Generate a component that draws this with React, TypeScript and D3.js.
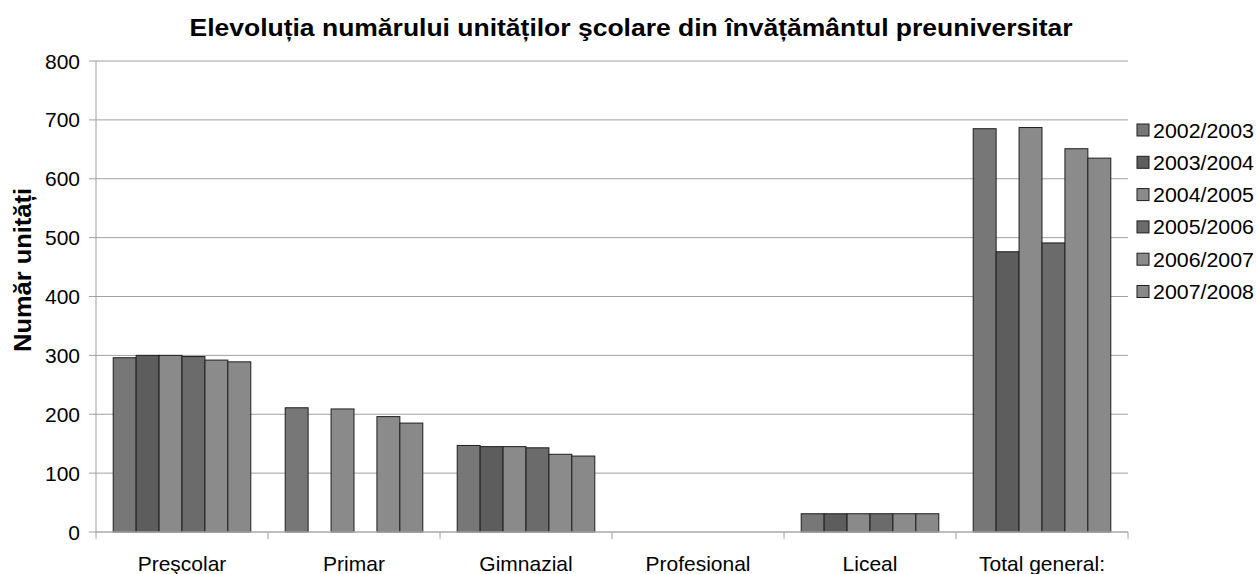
import React from "react";
import * as d3 from "d3";

const categories = ["Preşcolar", "Primar", "Gimnazial", "Profesional", "Liceal", "Total general:"];
const seriesNames = ["2002/2003", "2003/2004", "2004/2005", "2005/2006", "2006/2007", "2007/2008"];
// values[series][category]
const s2002 = [296, 211, 147, 0, 31, 685];
const s2003 = [300, null, 145, 0, 31, 476];
const s2004 = [300, 209, 145, 0, 31, 687];
const s2005 = [298, null, 143, 0, 31, 491];
const s2006 = [292, 196, 132, 0, 31, 651];
const s2007 = [289, 185, 129, 0, 31, 635];
const seriesValues: (number | null)[][] = [s2002, s2003, s2004, s2005, s2006, s2007];
const yTicks = [0, 100, 200, 300, 400, 500, 600, 700, 800];
const colors = ["#777777", "#5d5d5d", "#8a8a8a", "#6b6b6b", "#8b8b8b", "#898989"];

const W = 1256, H = 574;
const left = 96, right = 1128, top = 61, bottom = 532;

export default function App() {
  const x0 = d3.scaleBand<string>().domain(categories).range([left, right]).padding(0);
  const bw = x0.bandwidth() / 7.5;
  const y = d3.scaleLinear().domain([0, 800]).range([bottom, top]);
  const font = "Arial, 'Liberation Sans', sans-serif";
  return (
    <svg width={W} height={H} style={{ position: "absolute", left: 0, top: 0, background: "#fff" }} fontFamily={font}>
      <text x={631} y={36} textAnchor="middle" fontWeight="bold" fontSize={23} textLength={883} lengthAdjust="spacingAndGlyphs">Elevoluția numărului unităților şcolare din învățământul preuniversitar</text>
      {yTicks.map((t) => (
        <g key={t}>
          {t > 0 && <line x1={left} x2={right} y1={y(t)} y2={y(t)} stroke="#a0a0a0" strokeWidth={1} />}
          <line x1={left - 7} x2={left} y1={y(t)} y2={y(t)} stroke="#a0a0a0" />
          <text x={80} y={y(t) + 7.5} textAnchor="end" fontSize={21}>{t}</text>
        </g>
      ))}
      <line x1={left} x2={left} y1={top} y2={bottom} stroke="#a0a0a0" />
      <text transform={`translate(31,270) rotate(-90)`} textAnchor="middle" fontWeight="bold" fontSize={24} textLength={164} lengthAdjust="spacingAndGlyphs">Număr unități</text>
      {seriesValues.map((vals, si) =>
        vals.map((v, ci) =>
          v == null || v === 0 ? null : (
            <rect key={`${si}-${ci}`} x={(x0(categories[ci]) as number) + bw * 0.75 + si * bw} y={y(v)} width={bw} height={y(0) - y(v)} fill={colors[si]} stroke="#1e1e1e" strokeWidth={1} />
          )
        )
      )}
      <line x1={left} x2={right} y1={bottom} y2={bottom} stroke="#a8a8a8" strokeWidth={1.5} />
      {categories.map((c, i) => (
        <line key={"t" + i} x1={(x0(c) as number)} x2={(x0(c) as number)} y1={bottom} y2={bottom + 7} stroke="#a0a0a0" />
      ))}
      <line x1={right} x2={right} y1={bottom} y2={bottom + 7} stroke="#a0a0a0" />
      {categories.map((c) => (
        <text key={c} x={(x0(c) as number) + x0.bandwidth() / 2} y={571} textAnchor="middle" fontSize={21}>{c}</text>
      ))}
      {seriesNames.map((s, i) => (
        <g key={s} transform={`translate(1137,${130 + i * 32.3})`}>
          <rect x={0} y={-6} width={12} height={12} fill={colors[i]} stroke="#1e1e1e" strokeWidth={1} />
          <text x={16} y={7.5} fontSize={20.5} textLength={101} lengthAdjust="spacingAndGlyphs">{s}</text>
        </g>
      ))}
    </svg>
  );
}
